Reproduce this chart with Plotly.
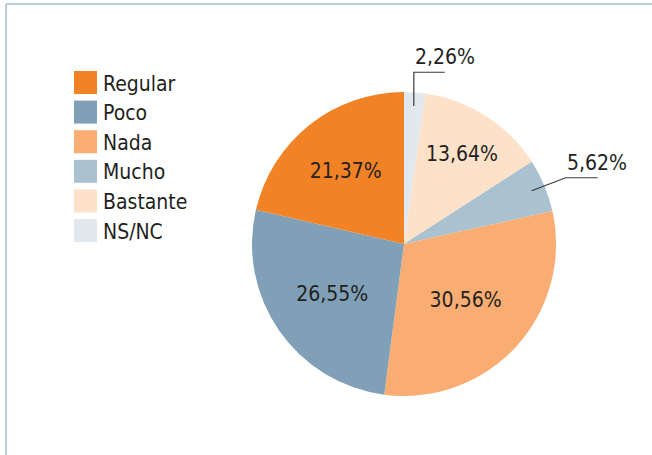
import math
import plotly.graph_objects as go

labels = ["Regular", "Poco", "Nada", "Mucho", "Bastante", "NS/NC"]
values = [21.37, 26.55, 30.56, 5.62, 13.64, 2.26]
text_labels = ["21,37%", "26,55%", "30,56%", "5,62%", "13,64%", "2,26%"]
colors = ["#F28226", "#7FA0B7", "#F9AD72", "#AAC1D0", "#FDE1C9", "#E1E8EE"]
inside = [True, True, True, False, True, False]

W, H = 652, 455
cx, cy, R = 404, 244, 152
FONT = "Liberation Sans Narrow, DejaVu Sans Condensed, Arial Narrow, sans-serif"
TXT = "#231F20"

def px(x):
    return x / W

def py(y):
    return (H - y) / H

# pie drawn clockwise from 12 o'clock in reverse legend order
order = list(range(len(labels)))[::-1]

fig = go.Figure()
fig.add_trace(go.Pie(
    labels=[labels[i] for i in order],
    values=[values[i] for i in order],
    text=[text_labels[i] if inside[i] else "" for i in order],
    textinfo="text",
    textposition="inside",
    insidetextorientation="horizontal",
    textfont=dict(family=FONT, size=21, color=TXT),
    marker=dict(colors=[colors[i] for i in order], line=dict(width=0)),
    sort=False,
    direction="clockwise",
    rotation=0,
    hoverinfo="skip",
    showlegend=False,
    domain=dict(x=[px(cx - R), px(cx + R)], y=[py(cy + R), py(cy - R)]),
))

shapes = []
annotations = []

# frame
shapes.append(dict(type="line", xref="paper", yref="paper", x0=px(6), x1=px(W), y0=py(4), y1=py(4),
                   line=dict(color="#A3BCCE", width=1.5)))
shapes.append(dict(type="line", xref="paper", yref="paper", x0=px(6), x1=px(6), y0=py(4), y1=py(H),
                   line=dict(color="#A3BCCE", width=1.5)))

# legend
lx, ly0, step, sz = 74, 71, 29.6, 23
for i, (lab, col) in enumerate(zip(labels, colors)):
    y0 = ly0 + i * step
    shapes.append(dict(type="rect", xref="paper", yref="paper", x0=px(lx), x1=px(lx + sz),
                       y0=py(y0 + sz), y1=py(y0), fillcolor=col, line=dict(width=0)))
    annotations.append(dict(xref="paper", yref="paper", x=px(lx + sz + 4), y=py(y0 + sz / 2 + 1),
                            text=lab, showarrow=False, xanchor="left", yanchor="middle",
                            font=dict(family=FONT, size=21, color=TXT)))

# outside labels with leader lines (anchored on slice mid-angle)
total = sum(values)
mid = {}
cum = 0
for i in order:
    v = values[i]
    mid[i] = math.radians(90 - (cum + v / 2) / total * 360)
    cum += v

leader = {5: ("up", 31), 3: ("diag", 32)}
for i, (kind, hl) in leader.items():
    ax = cx + 0.91 * R * math.cos(mid[i])
    ay = cy - 0.91 * R * math.sin(mid[i])
    if kind == "up":
        ex, ey = ax, cy - 1.13 * R
    else:
        ex, ey = ax + 34, ay - 13
    path = f"M {px(ax)} {py(ay)} L {px(ex)} {py(ey)} L {px(ex + hl)} {py(ey)}"
    shapes.append(dict(type="path", xref="paper", yref="paper", path=path,
                       line=dict(color="#3A3A3A", width=1.2)))
    annotations.append(dict(xref="paper", yref="paper", x=px(ex - 1), y=py(ey - 1),
                            text=text_labels[i], showarrow=False, xanchor="left", yanchor="bottom",
                            font=dict(family=FONT, size=21, color=TXT)))

fig.update_layout(
    width=W, height=H,
    margin=dict(l=0, r=0, t=0, b=0),
    paper_bgcolor="white",
    plot_bgcolor="white",
    shapes=shapes,
    annotations=annotations,
    showlegend=False,
)

fig.write_html("out.html", config={"displayModeBar": False},
               post_script="document.body.style.margin='0px';document.body.style.overflow='hidden';")
